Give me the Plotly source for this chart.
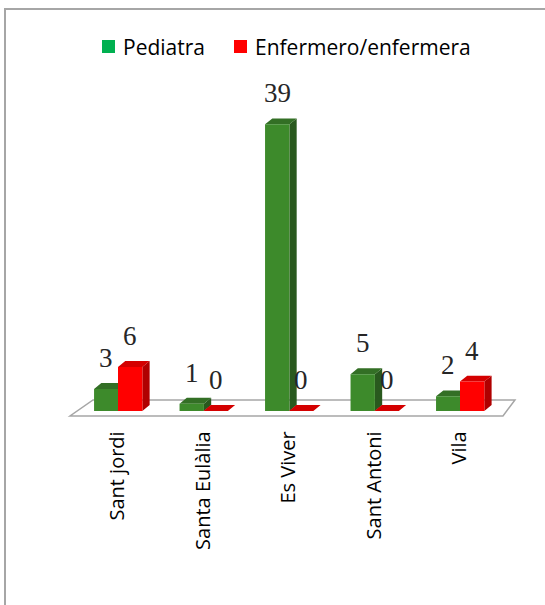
import plotly.graph_objects as go

categories = ["Sant jordi", "Santa Eulàlia", "Es Viver", "Sant Antoni", "Vila"]
pediatra = [3, 1, 39, 5, 2]
enfermero = [6, 0, 0, 0, 4]

series = [
    ("Pediatra", pediatra, "#00B050", ("#3D8A2B", "#336F25", "#29591E"), -0.28),
    ("Enfermero/enfermera", enfermero, "#FF0000", ("#FF0000", "#D40000", "#B00000"), 0.0),
]

W = 0.285     # bar width (category units)
DX = 0.085    # depth offset x
DY = 0.8      # depth offset y

PW, PH = 545, 605
def px(v):  # horizontal pixel -> paper
    return v / PW
def py(v):  # vertical pixel (from top) -> paper
    return 1 - v / PH

fig = go.Figure()

# floor
fig.add_shape(type="path", xref="x", yref="y", layer="below",
              path="M -0.561 -0.68 L 4.503 -0.68 L 4.643 1.5 L -0.292 1.5 Z",
              line=dict(color="#A6A6A6", width=1.5), fillcolor="white")

def poly_trace(xs, ys, color):
    return go.Scatter(x=xs, y=ys, mode="lines", fill="toself", fillcolor=color,
                      line=dict(width=0, color=color), hoverinfo="skip", showlegend=False)

for name, vals, legcol, (cf, ct, cs), off in series:
    sx, sy, tx, ty, fx, fy = [], [], [], [], [], []
    for i, v in enumerate(vals):
        x0 = i + off
        x1 = x0 + W
        sx += [x1, x1 + DX, x1 + DX, x1, x1, None]
        sy += [0, DY, v + DY, v, 0, None]
        tx += [x0, x1, x1 + DX, x0 + DX, x0, None]
        ty += [v, v, v + DY, v + DY, v, None]
        if v > 0:
            fx += [x0, x1, x1, x0, x0, None]
            fy += [0, 0, v, v, 0, None]
    fig.add_trace(poly_trace(sx, sy, cs))
    fig.add_trace(poly_trace(tx, ty, ct))
    if fx:
        fig.add_trace(poly_trace(fx, fy, cf))
    for i, v in enumerate(vals):
        fig.add_annotation(x=i + off + W / 2, y=v + DY, text=str(v),
                           showarrow=False, yanchor="bottom", yshift=8, xref="x", yref="y",
                           font=dict(family="Liberation Serif", size=27, color="#262626"))

# legend (squares + labels)
leg_items = [("Pediatra", "#00B050", 102, 121), ("Enfermero/enfermera", "#FF0000", 234, 253)]
for label, col, mx, tx0 in leg_items:
    fig.add_shape(type="rect", xref="paper", yref="paper",
                  x0=px(mx), x1=px(mx + 13), y0=py(53), y1=py(40),
                  line=dict(width=0), fillcolor=col)
    fig.add_annotation(xref="paper", yref="paper", x=px(tx0), y=py(46.5), text=label,
                       showarrow=False, xanchor="left", yanchor="middle",
                       font=dict(family="Open Sans", size=21, color="black"))

# chart border
fig.add_shape(type="rect", xref="paper", yref="paper",
              x0=px(5), x1=1.02, y0=-0.02, y1=py(9),
              line=dict(color="#A6A6A6", width=2), fillcolor="rgba(0,0,0,0)")

fig.update_layout(
    width=PW, height=PH,
    margin=dict(l=0, r=0, t=0, b=0, autoexpand=False),
    paper_bgcolor="white", plot_bgcolor="white",
    font=dict(family="Open Sans", color="black"),
    showlegend=False,
    xaxis=dict(domain=[px(66.7), px(524.1)], range=[-0.6, 4.75], automargin=False,
               tickmode="array", tickvals=list(range(len(categories))), ticktext=categories,
               tickangle=-90, showgrid=False, zeroline=False, showline=False, ticks="",
               ticklabelstandoff=8,
               tickfont=dict(family="Open Sans", size=20, color="black")),
    yaxis=dict(domain=[py(418.35), py(80.25)], range=[-1, 45], automargin=False,
               showgrid=False, zeroline=False, showline=False, showticklabels=False, ticks=""),
)

fig.write_html("out.html", config={"displayModeBar": False},
               post_script="document.body.style.margin='0';document.body.style.overflow='hidden';")
